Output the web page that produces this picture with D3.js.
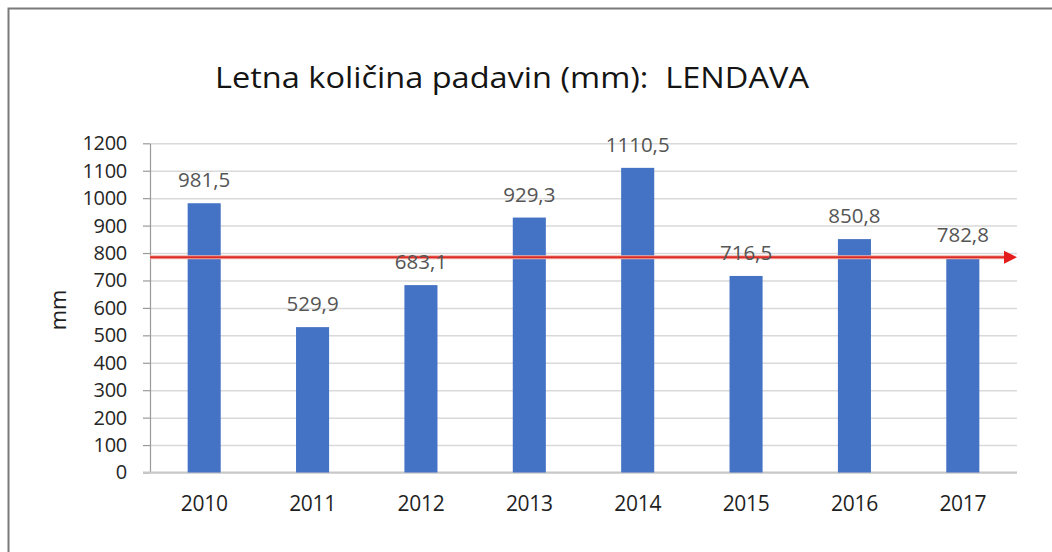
<!DOCTYPE html>
<html>
<head>
<meta charset="utf-8">
<script src="https://cdn.jsdelivr.net/npm/d3@7"></script>
<style>
  html, body { margin: 0; padding: 0; background: #fff; }
  svg { display: block; }
</style>
</head>
<body>
<svg id="chart" width="1052" height="552"></svg>
<script>
// data
const years = ['2010', '2011', '2012', '2013', '2014', '2015', '2016', '2017'];
const rainfall = [981.5, 529.9, 683.1, 929.3, 1110.5, 716.5, 850.8, 782.8];
const rainLabels = ['981,5', '529,9', '683,1', '929,3', '1110,5', '716,5', '850,8', '782,8'];
const yTicks = [0, 100, 200, 300, 400, 500, 600, 700, 800, 900, 1000, 1100, 1200];
const avgLevel = 785;
const titleText = 'Letna količina padavin (mm):  LENDAVA';

const font = '"Open Sans", "Noto Sans", sans-serif';
const plot = { left: 150, right: 1017, top: 143.3, bottom: 472.5 };

const svg = d3.select('#chart');

svg.append('rect').attr('width', 1052).attr('height', 552).attr('fill', '#fff');

// frame (only top and left edges are visible)
svg.append('path')
    .attr('d', 'M8.5,560 L8.5,8.5 L1060,8.5')
    .attr('fill', 'none')
    .attr('stroke', '#7a7a7a')
    .attr('stroke-width', 2);

const x = d3.scaleBand()
    .domain(years)
    .range([plot.left, plot.right])
    .paddingInner(0.695)
    .paddingOuter(0.3475);

const y = d3.scaleLinear()
    .domain([0, 1200])
    .range([plot.bottom, plot.top]);

// grid
const yGrid = d3.axisLeft(y).tickValues(yTicks).tickSize(-(plot.right - plot.left)).tickFormat('');
svg.append('g')
    .attr('transform', `translate(${plot.left},0)`)
    .call(yGrid)
    .call(g => g.select('.domain').remove())
    .call(g => g.selectAll('line').attr('stroke', '#d9d9d9').attr('stroke-width', 1.5));

// y axis
const yAxis = d3.axisLeft(y).tickValues(yTicks).tickFormat(d3.format('d'))
    .tickSizeInner(7).tickSizeOuter(0).tickPadding(16);
svg.append('g')
    .attr('transform', `translate(${plot.left},0)`)
    .call(yAxis)
    .call(g => g.select('.domain').attr('stroke', '#9a9a9a').attr('stroke-width', 1.2))
    .call(g => g.selectAll('line').attr('stroke', '#9a9a9a').attr('stroke-width', 1.2))
    .call(g => g.selectAll('text')
        .attr('font-family', font)
        .attr('font-size', 20)
        .attr('letter-spacing', -0.3)
        .attr('fill', '#262626'));

// baseline
svg.append('line')
    .attr('x1', plot.left - 7).attr('x2', plot.right)
    .attr('y1', y(0)).attr('y2', y(0))
    .attr('stroke', '#c8c8c8')
    .attr('stroke-width', 2);

// bars
svg.append('g').selectAll('rect')
    .data(rainfall)
    .join('rect')
    .attr('x', (d, i) => x(years[i]))
    .attr('y', d => y(d))
    .attr('width', x.bandwidth())
    .attr('height', d => y(0) - y(d))
    .attr('fill', '#4472c4');

// x axis labels
const xAxis = d3.axisBottom(x).tickSize(0).tickPadding(24);
svg.append('g')
    .attr('transform', `translate(0,${plot.bottom})`)
    .call(xAxis)
    .call(g => g.select('.domain').remove())
    .call(g => g.selectAll('text')
        .attr('font-family', font)
        .attr('font-size', 21)
        .attr('letter-spacing', -0.3)
        .attr('fill', '#1f1f1f'));

// average arrow line
const arrowTip = plot.right;
svg.append('line')
    .attr('x1', plot.left).attr('x2', arrowTip - 12)
    .attr('y1', y(avgLevel)).attr('y2', y(avgLevel))
    .attr('stroke', '#f3b0a8')
    .attr('stroke-width', 4);
svg.append('line')
    .attr('x1', plot.left).attr('x2', arrowTip - 12)
    .attr('y1', y(avgLevel)).attr('y2', y(avgLevel))
    .attr('stroke', '#dc2b24')
    .attr('stroke-width', 2);
svg.append('path')
    .attr('d', `M${arrowTip - 13},${y(avgLevel) - 6.5} L${arrowTip},${y(avgLevel)} L${arrowTip - 13},${y(avgLevel) + 6.5} Z`)
    .attr('fill', '#e51c1c');

// value labels
svg.append('g').selectAll('text')
    .data(rainfall)
    .join('text')
    .attr('x', (d, i) => x(years[i]) + x.bandwidth() / 2)
    .attr('y', d => y(d) - 16)
    .attr('text-anchor', 'middle')
    .attr('font-family', font)
    .attr('font-size', 20.5)
    .attr('fill', '#555')
    .text((d, i) => rainLabels[i]);

// y axis title
svg.append('text')
    .attr('transform', 'translate(66,310) rotate(-90)')
    .attr('text-anchor', 'middle')
    .attr('font-family', font)
    .attr('font-size', 22)
    .attr('fill', '#1f1f1f')
    .text('mm');

// chart title
svg.append('text')
    .attr('x', 512)
    .attr('y', 88)
    .attr('text-anchor', 'middle')
    .attr('font-family', font)
    .attr('font-size', 30)
    .attr('fill', '#141414')
    .attr('textLength', 594)
    .attr('lengthAdjust', 'spacingAndGlyphs')
    .style('white-space', 'pre')
    .text(titleText);
</script>
</body>
</html>
